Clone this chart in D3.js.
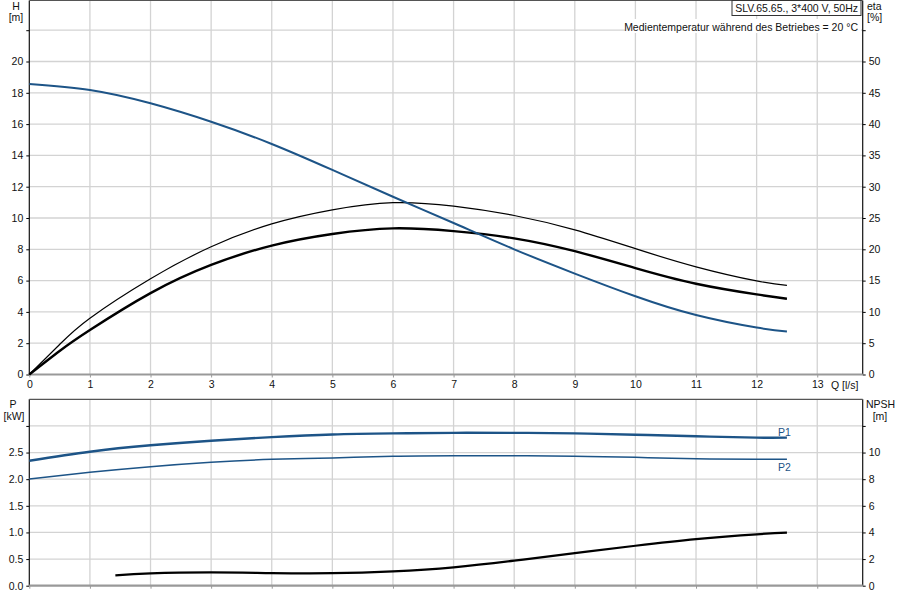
<!DOCTYPE html>
<html>
<head>
<meta charset="utf-8">
<script src="https://cdn.jsdelivr.net/npm/d3@7"></script>
<style>
  body { margin: 0; background: #fff; }
  text { font-family: "Liberation Sans", Arial, sans-serif; font-size: 10.5px; fill: #111; }
</style>
</head>
<body>
<div id="chart"></div>
<script>
const width = 900;
const height = 600;

// pump curve data, Q in l/s
const q_h = [0, 1, 2, 3, 4, 5, 6, 7, 8, 9, 10, 11, 12, 12.5];
const head = [18.56, 18.18, 17.33, 16.15, 14.73, 13.07, 11.36, 9.68, 8.0, 6.45, 5.0, 3.8, 3.0, 2.74];

const q_eta = [0, 0.5, 1, 2, 3, 4, 5, 6, 7, 8, 9, 10, 11, 12, 12.5];
const eta_thin = [0, 4.8, 9.0, 15.3, 20.4, 24.05, 26.3, 27.45, 26.9, 25.4, 23.1, 20.1, 17.2, 14.95, 14.25];
const eta_thick = [0, 3.75, 7.1, 13.0, 17.5, 20.6, 22.45, 23.35, 22.9, 21.75, 19.7, 17.0, 14.5, 12.8, 12.1];

const q_p = [0, 1, 2, 3, 4, 5, 6, 7, 8, 9, 10, 11, 12, 12.5];
const p1 = [2.347, 2.516, 2.636, 2.723, 2.79, 2.84, 2.86, 2.87, 2.87, 2.86, 2.835, 2.805, 2.78, 2.78];
const p2 = [2.003, 2.129, 2.234, 2.317, 2.373, 2.40, 2.43, 2.44, 2.44, 2.43, 2.41, 2.385, 2.373, 2.373];

const q_npsh = [1.42, 2, 3, 4, 5, 6, 7, 8, 9, 10, 11, 12, 12.5];
const npsh = [0.78, 0.93, 1.0, 0.95, 0.94, 1.08, 1.38, 1.88, 2.45, 3.0, 3.5, 3.86, 3.98];

const x_ticks = [0, 1, 2, 3, 4, 5, 6, 7, 8, 9, 10, 11, 12, 13];
const h_ticks = [0, 2, 4, 6, 8, 10, 12, 14, 16, 18, 20, 22];
const eta_ticks = [0, 5, 10, 15, 20, 25, 30, 35, 40, 45, 50, 55];
const p_ticks = [0, 0.5, 1.0, 1.5, 2.0, 2.5, 3.0];
const npsh_ticks = [0, 2, 4, 6, 8, 10, 12];

const blue = '#1d5487';
const grid_color = '#d3d3d3';
const left = 29.3, right = 862.7;

const x_scale = d3.scaleLinear().domain([0, 13.75]).range([left, right]);
const h_scale = d3.scaleLinear().domain([0, 24]).range([374.5, -1.1]);
const eta_scale = d3.scaleLinear().domain([0, 60]).range([374.5, -1.1]);
const p_scale = d3.scaleLinear().domain([0, 3.5]).range([585.7, 399.3]);
const npsh_scale = d3.scaleLinear().domain([0, 14]).range([585.7, 399.3]);

const svg = d3.select('#chart')
  .append('svg')
    .attr('width', width)
    .attr('height', height);

let draw_panel = (top, bottom, y_left, ticks_left, fmt_left, labelled_left, y_right, ticks_right, labelled_right, show_x) => {
  const g = svg.append('g');
  // vertical grid
  g.selectAll('line.vgrid')
      .data(x_ticks.slice(1))
    .join('line')
      .attr('x1', d => x_scale(d)).attr('x2', d => x_scale(d))
      .attr('y1', top).attr('y2', bottom)
      .attr('stroke', grid_color).attr('stroke-width', 1.3);
  // horizontal grid
  g.selectAll('line.hgrid')
      .data(ticks_left.slice(1))
    .join('line')
      .attr('x1', left).attr('x2', right)
      .attr('y1', d => y_left(d)).attr('y2', d => y_left(d))
      .attr('stroke', grid_color).attr('stroke-width', 1.3);

  // left axis
  const ax_l = d3.axisLeft(y_left).tickValues(ticks_left).tickSize(3).tickPadding(3)
    .tickFormat(d => labelled_left(d) ? fmt_left(d) : '');
  g.append('g').attr('transform', `translate(${left},0)`).call(ax_l)
    .call(s => s.select('.domain').remove())
    .call(s => s.selectAll('text').style('font-size', '10.5px').attr('fill', '#111'));
  g.append('line').attr('x1', left).attr('x2', left).attr('y1', top).attr('y2', bottom)
    .attr('stroke', '#111').attr('stroke-width', 1.2);

  // right axis
  const ax_r = d3.axisRight(y_right).tickValues(ticks_right).tickSize(3).tickPadding(3)
    .tickFormat(d => labelled_right(d) ? d : '');
  g.append('g').attr('transform', `translate(${right},0)`).call(ax_r)
    .call(s => s.select('.domain').remove())
    .call(s => s.selectAll('text').style('font-size', '10.5px').attr('fill', '#111'));
  g.append('line').attr('x1', right).attr('x2', right).attr('y1', top).attr('y2', bottom)
    .attr('stroke', '#111').attr('stroke-width', 1.2);

  // bottom axis
  const ax_b = d3.axisBottom(x_scale).tickValues(x_ticks).tickSize(3).tickPadding(3)
    .tickFormat(d => show_x ? d : '');
  g.append('g').attr('transform', `translate(0,${bottom})`).call(ax_b)
    .call(s => s.select('.domain').remove())
    .call(s => s.selectAll('line').attr('stroke', '#999'))
    .call(s => s.selectAll('text').style('font-size', '10.5px').attr('fill', '#111'));
  g.append('line').attr('x1', left).attr('x2', right).attr('y1', bottom).attr('y2', bottom)
    .attr('stroke', '#999').attr('stroke-width', 2.2);
  // top border
  g.append('line').attr('x1', left).attr('x2', right).attr('y1', top).attr('y2', top)
    .attr('stroke', top > 0 ? '#555' : grid_color).attr('stroke-width', top > 0 ? 1.2 : 1.3);
  return g;
}

draw_panel(0.5, 374.5, h_scale, h_ticks, d => d, d => d <= 20, eta_scale, eta_ticks, d => d <= 50, true);
draw_panel(399.3, 585.7, p_scale, p_ticks, d3.format('.1f'), d => d <= 2.5, npsh_scale, npsh_ticks, d => d <= 10, false);

let curve = (xs, ys, y_scale, color, w) => {
  const line = d3.line()
    .x(d => x_scale(d[0]))
    .y(d => y_scale(d[1]))
    .curve(d3.curveNatural);
  svg.append('path')
    .datum(xs.map((x, i) => [x, ys[i]]))
    .attr('d', line)
    .attr('fill', 'none')
    .attr('stroke', color)
    .attr('stroke-width', w)
    .attr('stroke-linejoin', 'round');
}

curve(q_eta, eta_thin, eta_scale, '#000', 1.2);
curve(q_eta, eta_thick, eta_scale, '#000', 2.4);
curve(q_h, head, h_scale, blue, 2);
curve(q_p, p1, p_scale, blue, 2.4);
curve(q_p, p2, p_scale, blue, 1.5);
curve(q_npsh, npsh, npsh_scale, '#000', 2.2);

// labels
let label = (txt, x, y, anchor, color) => {
  svg.append('text').attr('x', x).attr('y', y).attr('text-anchor', anchor || 'start')
    .attr('fill', color || '#111').style('fill', color || '#111').text(txt);
}
label('H', 16, 10, 'middle');
label('[m]', 16, 21, 'middle');
label('eta', 867, 10, 'start');
label('[%]', 867, 21, 'start');
label('Q [l/s]', 831, 389, 'start');
label('P', 13, 408, 'middle');
label('[kW]', 14, 420, 'middle');
label('NPSH', 866, 408, 'start');
label('[m]', 880, 420, 'middle');
label('P1', 778, 436, 'start', blue);
label('P2', 778, 471, 'start', blue);

// header box
svg.append('rect').attr('x', 625).attr('y', 19).attr('width', 236).attr('height', 14).attr('fill', '#fff');
svg.append('rect').attr('x', 732).attr('y', 0.5).attr('width', 129).attr('height', 15)
  .attr('fill', '#fff').attr('stroke', '#333').attr('stroke-width', 1);
label('SLV.65.65., 3*400 V, 50Hz', 858, 12, 'end');
label('Medientemperatur während des Betriebes = 20 °C', 858, 31, 'end');
</script>
</body>
</html>
